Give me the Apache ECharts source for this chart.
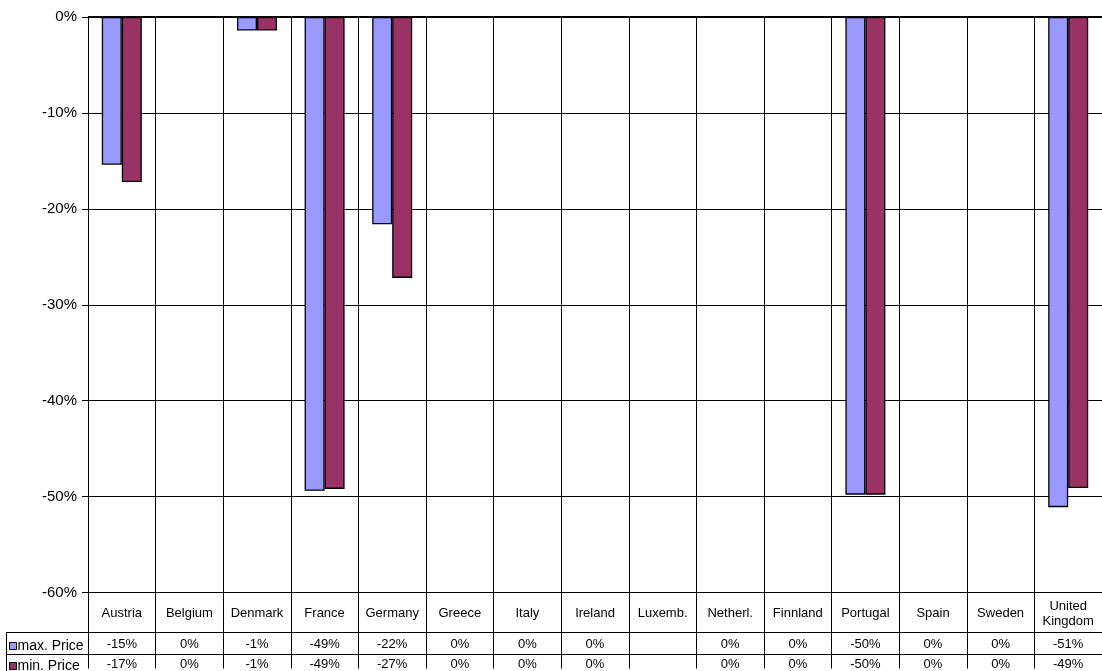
<!DOCTYPE html>
<html>
<head>
<meta charset="utf-8">
<style>
  html, body { margin: 0; padding: 0; background: #fff; }
  #chart { width: 1102px; height: 671px; }
</style>
<script src="https://cdn.jsdelivr.net/npm/echarts@6/dist/echarts.min.js"></script>
</head>
<body>
<div id="chart"></div>
<script>
// Price change per country (percent)
const countries = ['Austria', 'Belgium', 'Denmark', 'France', 'Germany', 'Greece', 'Italy', 'Ireland',
  'Luxemb.', 'Netherl.', 'Finnland', 'Portugal', 'Spain', 'Sweden', 'United\nKingdom'];
const maxPrice = [-15.4, 0, -1.4, -49.4, -21.6, 0, 0, 0, null, 0, 0, -49.8, 0, 0, -51.1];
const minPrice = [-17.2, 0, -1.4, -49.2, -27.2, 0, 0, 0, null, 0, 0, -49.8, 0, 0, -49.1];
const seriesNames = ['max. Price', 'min. Price'];
const yTicks = { min: -60, max: 0, interval: 10 };

const FONT = '"Liberation Sans", Arial, sans-serif';
const pct = v => (v === null || v === undefined) ? '' : Math.round(v) + '%';

const chart = echarts.init(document.getElementById('chart'), null, { renderer: 'canvas' });

// one axis per table row, all sharing the plot's category scale
function tableRowAxis(values, margin) {
  return {
    type: 'category',
    data: countries,
    position: 'bottom',
    axisLine: { show: false },
    axisTick: { show: false },
    splitLine: { show: false },
    axisLabel: {
      interval: 0, margin: margin, verticalAlign: 'middle',
      fontFamily: FONT, fontSize: 13, color: '#000',
      formatter: (val, idx) => pct(values[idx])
    }
  };
}

// legend key cell for one table row
function rowLegend(name, top) {
  return {
    orient: 'horizontal', left: 9, top: top, padding: 0,
    itemWidth: 7, itemHeight: 7, icon: 'rect',
    data: [name],
    selectedMode: false,
    textStyle: { fontFamily: FONT, fontSize: 14, color: '#000', lineHeight: 20, padding: [0, 0, 0, -4] },
    itemStyle: { borderColor: '#000', borderWidth: 1 }
  };
}

chart.setOption({
  animation: false,
  backgroundColor: '#fff',
  textStyle: { fontFamily: FONT },
  grid: { left: 88, top: 17, width: 1021, height: 578, containLabel: false },
  legend: [rowLegend(seriesNames[0], 636), rowLegend(seriesNames[1], 656)],
  xAxis: [
    {
      type: 'category',
      data: countries,
      position: 'bottom',
      boundaryGap: true,
      axisLine: { show: true, onZero: false, lineStyle: { color: '#000', width: 1 } },
      axisTick: { show: true, interval: 0, length: 76, lineStyle: { color: '#000', width: 1 } },
      splitLine: { show: true, interval: 0, lineStyle: { color: '#000', width: 1 } },
      axisLabel: {
        interval: 0, margin: 21, verticalAlign: 'middle', lineHeight: 15,
        fontFamily: FONT, fontSize: 13, color: '#000'
      }
    },
    tableRowAxis(maxPrice, 52),
    tableRowAxis(minPrice, 72)
  ],
  yAxis: {
    type: 'value',
    min: yTicks.min, max: yTicks.max, interval: yTicks.interval,
    axisLine: { show: true, lineStyle: { color: '#000', width: 1 } },
    axisTick: { show: true, length: 6, lineStyle: { color: '#000' } },
    splitLine: { show: true, showMinLine: true, showMaxLine: true, lineStyle: { color: '#000', width: 1 } },
    axisLabel: {
      margin: 11, fontFamily: FONT, fontSize: 15, color: '#000',
      padding: [2, 0, 0, 0],
      formatter: v => v + '%'
    }
  },
  series: [
    {
      name: seriesNames[0], type: 'bar', xAxisIndex: 0, data: maxPrice,
      barWidth: 20, barGap: '0%',
      itemStyle: { color: '#9999FF', borderColor: '#000', borderWidth: 1.3 }
    },
    {
      name: seriesNames[1], type: 'bar', xAxisIndex: 0, data: minPrice,
      barWidth: 20, barGap: '0%',
      itemStyle: { color: '#993366', borderColor: '#000', borderWidth: 1.3 }
    }
  ],
  // data table rules below the plot
  graphic: [
    { type: 'line', shape: { x1: 6, y1: 632.5, x2: 1102, y2: 632.5 }, style: { stroke: '#000', lineWidth: 1 } },
    { type: 'line', shape: { x1: 6, y1: 654.5, x2: 1102, y2: 654.5 }, style: { stroke: '#000', lineWidth: 1 } },
    { type: 'line', shape: { x1: 6.5, y1: 632, x2: 6.5, y2: 671 }, style: { stroke: '#000', lineWidth: 1 } },
    { type: 'line', shape: { x1: 88, y1: 16.5, x2: 1102, y2: 16.5 }, style: { stroke: '#000', lineWidth: 1 }, z: 0 }
  ]
});
</script>
</body>
</html>
